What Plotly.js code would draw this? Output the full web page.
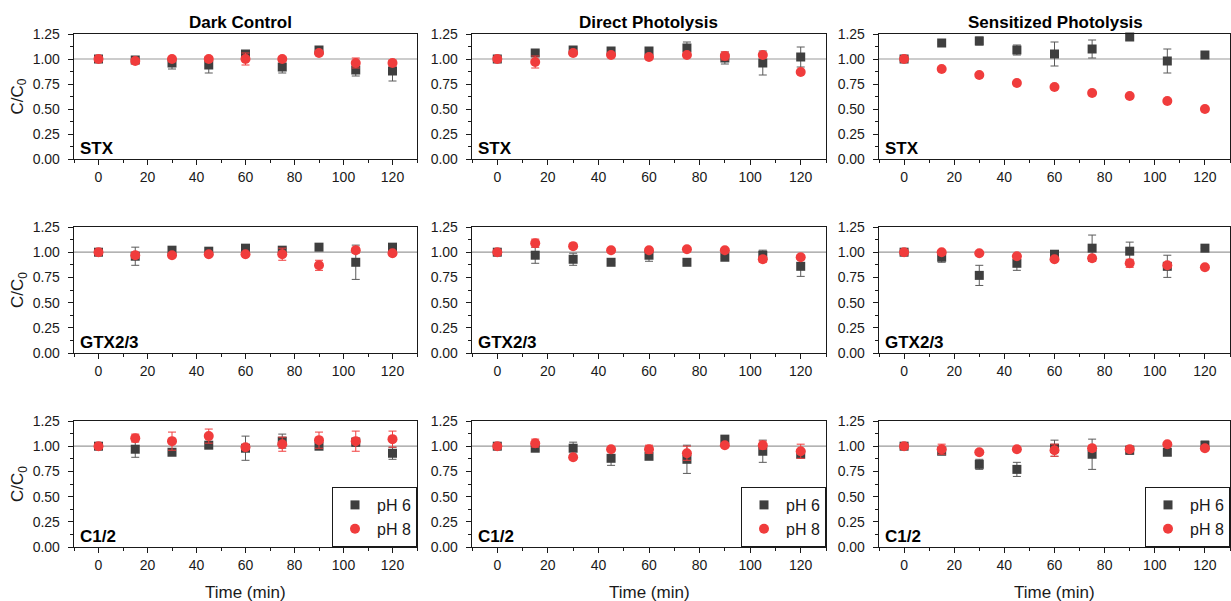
<!DOCTYPE html>
<html>
<head>
<meta charset="utf-8">
<script src="https://cdn.plot.ly/plotly-3.0.1.min.js"></script>
<style>
  html, body { margin: 0; padding: 0; background: #fff; }
  #chart { width: 1231px; height: 601px; }
</style>
</head>
<body>
<div id="chart"></div>
<script>
// Sampling times (min)
const time = [0, 15, 30, 45, 60, 75, 90, 105, 120];
const conditions = ['Dark Control', 'Direct Photolysis', 'Sensitized Photolysis'];
const toxins = ['STX', 'GTX2/3', 'C1/2'];
const seriesNames = ['pH 6', 'pH 8'];

// STX
const stxDarkPh6 = [1.00, 0.99, 0.96, 0.94, 1.05, 0.92, 1.09, 0.89, 0.88];
const stxDarkPh6Err = [0.01, 0.02, 0.06, 0.08, 0.03, 0.06, 0.02, 0.06, 0.10];
const stxDarkPh8 = [1.00, 0.98, 1.00, 1.00, 1.00, 1.00, 1.06, 0.96, 0.96];
const stxDarkPh8Err = [0.01, 0.01, 0.02, 0.02, 0.06, 0.02, 0.01, 0.05, 0.03];
const stxDirectPh6 = [1.00, 1.06, 1.09, 1.08, 1.08, 1.11, 1.01, 0.96, 1.02];
const stxDirectPh6Err = [0.01, 0.02, 0.02, 0.02, 0.02, 0.06, 0.06, 0.12, 0.10];
const stxDirectPh8 = [1.00, 0.97, 1.06, 1.04, 1.02, 1.04, 1.03, 1.04, 0.87];
const stxDirectPh8Err = [0.01, 0.06, 0.02, 0.01, 0.02, 0.01, 0.04, 0.02, 0.00];
const stxSensPh6 = [1.00, 1.16, 1.18, 1.09, 1.05, 1.10, 1.22, 0.98, 1.04];
const stxSensPh6Err = [0.01, 0.01, 0.04, 0.05, 0.12, 0.09, 0.03, 0.12, 0.00];
const stxSensPh8 = [1.00, 0.90, 0.84, 0.76, 0.72, 0.66, 0.63, 0.58, 0.50];
const stxSensPh8Err = [0.01, 0.01, 0.01, 0.01, 0.01, 0.01, 0.01, 0.01, 0.01];

// GTX2/3
const gtxDarkPh6 = [1.00, 0.96, 1.02, 1.01, 1.04, 1.02, 1.05, 0.90, 1.05];
const gtxDarkPh6Err = [0.01, 0.09, 0.02, 0.01, 0.01, 0.02, 0.03, 0.17, 0.00];
const gtxDarkPh8 = [1.00, 0.97, 0.97, 0.98, 0.98, 0.98, 0.87, 1.02, 0.99];
const gtxDarkPh8Err = [0.01, 0.03, 0.01, 0.01, 0.01, 0.06, 0.05, 0.03, 0.00];
const gtxDirectPh6 = [1.00, 0.97, 0.93, 0.90, 0.97, 0.90, 0.95, 0.97, 0.86];
const gtxDirectPh6Err = [0.01, 0.08, 0.06, 0.00, 0.06, 0.00, 0.01, 0.05, 0.10];
const gtxDirectPh8 = [1.00, 1.09, 1.06, 1.02, 1.02, 1.03, 1.02, 0.93, 0.95];
const gtxDirectPh8Err = [0.01, 0.04, 0.01, 0.02, 0.02, 0.01, 0.01, 0.03, 0.02];
const gtxSensPh6 = [1.00, 0.95, 0.77, 0.89, 0.98, 1.04, 1.01, 0.86, 1.04];
const gtxSensPh6Err = [0.01, 0.05, 0.10, 0.07, 0.02, 0.13, 0.09, 0.11, 0.00];
const gtxSensPh8 = [1.00, 1.00, 0.99, 0.96, 0.93, 0.94, 0.89, 0.87, 0.85];
const gtxSensPh8Err = [0.01, 0.01, 0.01, 0.02, 0.01, 0.03, 0.04, 0.02, 0.00];

// C1/2
const c12DarkPh6 = [1.00, 0.97, 0.94, 1.01, 0.98, 1.05, 1.00, 1.04, 0.93];
const c12DarkPh6Err = [0.01, 0.08, 0.03, 0.02, 0.12, 0.07, 0.03, 0.04, 0.06];
const c12DarkPh8 = [1.00, 1.08, 1.05, 1.10, 0.99, 1.02, 1.06, 1.05, 1.07];
const c12DarkPh8Err = [0.01, 0.04, 0.09, 0.07, 0.02, 0.07, 0.08, 0.10, 0.08];
const c12DirectPh6 = [1.00, 0.98, 0.98, 0.88, 0.90, 0.87, 1.07, 0.95, 0.92];
const c12DirectPh6Err = [0.01, 0.02, 0.06, 0.07, 0.01, 0.14, 0.02, 0.11, 0.03];
const c12DirectPh8 = [1.00, 1.03, 0.89, 0.97, 0.97, 0.93, 1.01, 1.01, 0.95];
const c12DirectPh8Err = [0.01, 0.04, 0.01, 0.02, 0.04, 0.07, 0.01, 0.04, 0.07];
const c12SensPh6 = [1.00, 0.95, 0.82, 0.77, 0.98, 0.92, 0.96, 0.94, 1.01];
const c12SensPh6Err = [0.01, 0.03, 0.05, 0.07, 0.08, 0.15, 0.04, 0.03, 0.04];
const c12SensPh8 = [1.00, 0.97, 0.94, 0.97, 0.96, 0.98, 0.97, 1.02, 0.98];
const c12SensPh8Err = [0.01, 0.05, 0.02, 0.01, 0.06, 0.03, 0.02, 0.01, 0.02];

// Panels in row-major order: [pH 6, pH 6 err, pH 8, pH 8 err]
const panels = [
  [stxDarkPh6, stxDarkPh6Err, stxDarkPh8, stxDarkPh8Err],
  [stxDirectPh6, stxDirectPh6Err, stxDirectPh8, stxDirectPh8Err],
  [stxSensPh6, stxSensPh6Err, stxSensPh8, stxSensPh8Err],
  [gtxDarkPh6, gtxDarkPh6Err, gtxDarkPh8, gtxDarkPh8Err],
  [gtxDirectPh6, gtxDirectPh6Err, gtxDirectPh8, gtxDirectPh8Err],
  [gtxSensPh6, gtxSensPh6Err, gtxSensPh8, gtxSensPh8Err],
  [c12DarkPh6, c12DarkPh6Err, c12DarkPh8, c12DarkPh8Err],
  [c12DirectPh6, c12DirectPh6Err, c12DirectPh8, c12DirectPh8Err],
  [c12SensPh6, c12SensPh6Err, c12SensPh8, c12SensPh8Err]
];

// ---- layout geometry (pixels) ----
const W = 1231, H = 601;
const colPx = [[74, 417], [472, 826], [879, 1230]];
const rowPx = [[34, 159], [227, 353], [421, 547]];
const titleCx = [240, 648, 1055];
const FONT = 'Arial, "Liberation Sans", Helvetica, sans-serif';
const INK = '#1a1a1a';
const DARK = '#3f3f3f';
const RED = '#f03c3c';

const px = v => v / W;
const py = v => 1 - v / H;

const traces = [];
const layout = {
  width: W, height: H,
  margin: { l: 0, r: 0, t: 0, b: 0 },
  paper_bgcolor: '#fff', plot_bgcolor: '#fff',
  font: { family: FONT, color: INK, size: 14 },
  showlegend: true,
  annotations: [], shapes: []
};

panels.forEach((p, i) => {
  const r = Math.floor(i / 3), c = i % 3;
  const sfx = i === 0 ? '' : String(i + 1);
  const xa = 'x' + sfx, ya = 'y' + sfx;
  const legendId = r === 2 ? (c === 0 ? 'legend' : 'legend' + (c + 1)) : null;

  layout['xaxis' + sfx] = {
    domain: [px(colPx[c][0]), px(colPx[c][1])],
    anchor: ya, range: [-10, 130],
    tickvals: [0, 20, 40, 60, 80, 100, 120],
    ticks: 'outside', ticklen: 5, tickwidth: 1, tickcolor: INK,
    minor: { ticks: 'outside', ticklen: 3, tickwidth: 1, tickcolor: INK, dtick: 10, tick0: 0, showgrid: false },
    showline: true, linecolor: INK, linewidth: 1.3, mirror: true,
    showgrid: false, zeroline: false,
    tickfont: { size: 14, color: INK, family: FONT }
  };
  layout['yaxis' + sfx] = {
    domain: [py(rowPx[r][1]), py(rowPx[r][0])],
    anchor: xa, range: [0, 1.25],
    tickvals: [0, 0.25, 0.5, 0.75, 1.0, 1.25], tickformat: '.2f',
    ticks: 'outside', ticklen: 5, tickwidth: 1, tickcolor: INK,
    minor: { ticks: 'outside', ticklen: 3, tickwidth: 1, tickcolor: INK, dtick: 0.125, tick0: 0, showgrid: false },
    showline: true, linecolor: INK, linewidth: 1.3, mirror: true,
    showgrid: false, zeroline: false, ticklabelstandoff: 5,
    tickfont: { size: 14, color: INK, family: FONT }
  };

  // reference line at C/C0 = 1
  layout.shapes.push({
    type: 'line', xref: xa + ' domain', yref: ya, x0: 0, x1: 1, y0: 1, y1: 1,
    line: { color: '#9a9a9a', width: 1.2 }, layer: 'below'
  });

  const base = { x: time, xaxis: xa, yaxis: ya, type: 'scatter', mode: 'markers', cliponaxis: false };
  const ph6 = Object.assign({}, base, {
    y: p[0], name: seriesNames[0],
    marker: { symbol: 'square', size: 9, color: DARK },
    error_y: { type: 'data', array: p[1], visible: true, color: '#5a5a5a', thickness: 1, width: 4 },
    showlegend: !!legendId
  });
  const ph8 = Object.assign({}, base, {
    y: p[2], name: seriesNames[1],
    marker: { symbol: 'circle', size: 10, color: RED },
    error_y: { type: 'data', array: p[3], visible: true, color: RED, thickness: 1, width: 4 },
    showlegend: !!legendId
  });
  if (legendId) { ph6.legend = legendId; ph8.legend = legendId; }
  traces.push(ph6, ph8);

  // toxin label inside lower-left corner
  layout.annotations.push({
    xref: 'paper', yref: 'paper', x: px(colPx[c][0] + 4), y: py(rowPx[r][1] + 1),
    xanchor: 'left', yanchor: 'bottom', showarrow: false,
    text: '<b>' + toxins[r] + '</b>', font: { size: 17, color: '#000', family: FONT }
  });

  if (r === 2) {
    const cx = (colPx[c][0] + colPx[c][1]) / 2;
    layout.annotations.push({
      xref: 'paper', yref: 'paper', x: px(cx), y: py(592),
      xanchor: 'center', yanchor: 'middle', showarrow: false,
      text: 'Time (min)', font: { size: 17, color: INK, family: FONT }
    });
    layout[legendId] = {
      x: px(colPx[c][1]), y: py(rowPx[r][1]), xanchor: 'right', yanchor: 'bottom',
      bgcolor: '#fff', bordercolor: INK, borderwidth: 1,
      font: { size: 16, color: INK, family: FONT },
      itemwidth: 34, tracegroupgap: 0
    };
  }
});

// column headings
conditions.forEach((t, c) => {
  layout.annotations.push({
    xref: 'paper', yref: 'paper', x: px(titleCx[c]), y: py(23),
    xanchor: 'center', yanchor: 'middle', showarrow: false,
    text: '<b>' + t + '</b>', font: { size: 17, color: '#000', family: FONT }
  });
});

// y-axis titles
rowPx.forEach(rp => {
  layout.annotations.push({
    xref: 'paper', yref: 'paper', x: px(19), y: py((rp[0] + rp[1]) / 2),
    xanchor: 'center', yanchor: 'middle', showarrow: false, textangle: -90,
    text: 'C/C<sub>0</sub>', font: { size: 17, color: INK, family: FONT }
  });
});

Plotly.newPlot('chart', traces, layout, { displayModeBar: false, staticPlot: true });
</script>
</body>
</html>
